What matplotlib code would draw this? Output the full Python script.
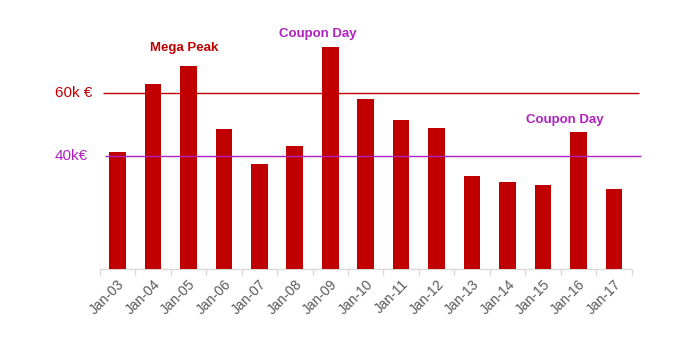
import matplotlib
matplotlib.use("Agg")
import numpy as np
import matplotlib.pyplot as plt

months = ['Jan-03', 'Jan-04', 'Jan-05', 'Jan-06', 'Jan-07', 'Jan-08', 'Jan-09', 'Jan-10',
          'Jan-11', 'Jan-12', 'Jan-13', 'Jan-14', 'Jan-15', 'Jan-16', 'Jan-17']
sales = [41.4, 62.9, 68.6, 48.6, 37.6, 43.3, 74.6, 58.2, 51.5, 49.0, 33.8, 31.9, 30.9, 47.7, 29.6]

ref_lines = [60, 40]
ref_labels = ['60k €', '40k€']

notes = ['Mega Peak', 'Coupon Day', 'Coupon Day']
note_x = [1.87, 5.65, 12.63]
note_y = [74.3, 78.8, 51.6]

red = '#C00000'
purple = '#B020C0'
ref_colors = [red, purple]
note_colors = [red, purple, purple]

plt.rcParams['font.family'] = ['Liberation Sans', 'DejaVu Sans']

fig = plt.figure(figsize=(6.77, 3.52), dpi=100)
ax = fig.add_axes([0.1474, 0.2358, 0.8002, 0.7074])

x = np.arange(len(months))
ax.bar(x, sales, width=0.47, color=red, zorder=2)

ax.set_xlim(-0.5, 14.78)
ax.set_ylim(4.3, 83.2)

# reference lines, a bit past the last bar
ax.hlines(ref_lines[0], -0.42, 14.71, color=ref_colors[0], linewidth=1.0, zorder=3)
ax.hlines(ref_lines[1], -0.35, 14.76, color=ref_colors[1], linewidth=1.0, zorder=3)
ax.text(-0.72, ref_lines[0], ref_labels[0], color=ref_colors[0], fontsize=11,
        ha='right', va='center', clip_on=False)
ax.text(-0.83, ref_lines[1], ref_labels[1], color=ref_colors[1], fontsize=11,
        ha='right', va='center', clip_on=False)

for t, nx, ny, c in zip(notes, note_x, note_y, note_colors):
    ax.text(nx, ny, t, color=c, fontsize=9.5, fontweight='bold', ha='center', va='center',
            clip_on=False)

# category axis
for s in ax.spines.values():
    s.set_visible(False)
ax.hlines(4.3, -0.5, 14.5, color='#D9D9D9', linewidth=1.0, clip_on=False, zorder=1)
ax.set_yticks([])
ax.set_xticks(x)
ax.set_xticklabels(months, rotation=45, ha='right', rotation_mode='anchor',
                   color='#595959', fontsize=10)
ax.tick_params(axis='x', which='major', length=0, pad=6)
ax.set_xticks(np.arange(-0.5, 15, 1), minor=True)
ax.tick_params(axis='x', which='minor', length=4, color='#D9D9D9', width=1)

fig.savefig('out.png', dpi=100)
